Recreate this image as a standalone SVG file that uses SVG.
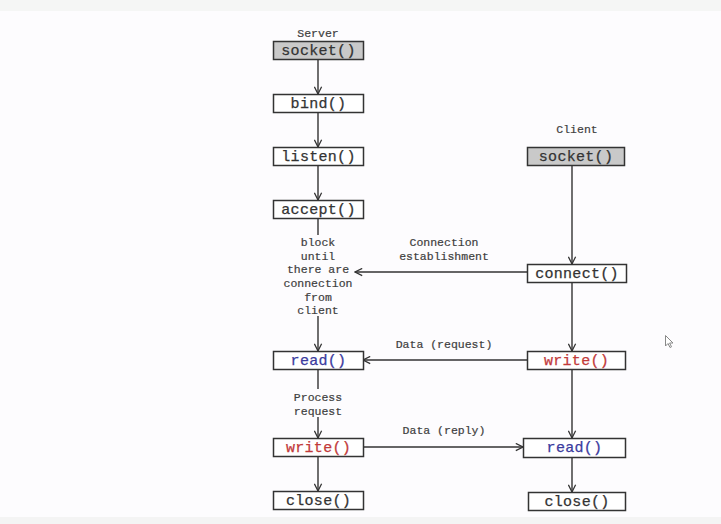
<svg xmlns="http://www.w3.org/2000/svg" width="721" height="524" viewBox="0 0 721 524">
  <style>
    .box { fill: #ffffff; stroke: #333333; stroke-width: 1.5; }
    .box.sock { fill: #c9c9c9; }
    .fn { font-family: "Liberation Mono", "DejaVu Sans Mono", monospace; font-size: 15px; fill: #333333; stroke: #333333; stroke-width: 0.25; text-anchor: middle; letter-spacing: 0.3px; }
    .fn.rd { fill: #3b3b9e; stroke: #3b3b9e; }
    .fn.wr { fill: #c23a3a; stroke: #c23a3a; }
    .lbl { font-family: "Liberation Mono", "DejaVu Sans Mono", monospace; font-size: 11.5px; fill: #404040; stroke: #404040; stroke-width: 0.2; text-anchor: middle; }
    .wire { fill: none; stroke: #333333; stroke-width: 1.4; }
  </style>
  <defs>
    <marker id="arrow" viewBox="0 0 10 10" refX="9" refY="5" markerWidth="9" markerHeight="9" markerUnits="userSpaceOnUse" orient="auto">
      <path d="M1,1 L9,5 L1,9" fill="none" stroke="#333333" stroke-width="1.4"/>
    </marker>
  </defs>

  <!-- page background -->
  <rect x="0" y="0" width="721" height="524" fill="#fdfcfe"/>
  <rect x="0" y="0" width="721" height="11" fill="#f5f6f5"/>
  <rect x="0" y="517" width="721" height="7" fill="#f4f4f4"/>

  <!-- column headings -->
  <text class="lbl" x="318" y="37">Server</text>
  <text class="lbl" x="577" y="133">Client</text>

  <!-- connectors -->
  <g id="connectors">
    <!-- server side -->
    <line class="wire" x1="318" y1="59" x2="318" y2="94" marker-end="url(#arrow)"/>
    <line class="wire" x1="318" y1="112" x2="318" y2="147" marker-end="url(#arrow)"/>
    <line class="wire" x1="318" y1="165" x2="318" y2="200" marker-end="url(#arrow)"/>
    <line class="wire" x1="318" y1="218" x2="318" y2="235"/>
    <line class="wire" x1="318" y1="316" x2="318" y2="351" marker-end="url(#arrow)"/>
    <line class="wire" x1="318" y1="369" x2="318" y2="389"/>
    <line class="wire" x1="318" y1="417" x2="318" y2="438" marker-end="url(#arrow)"/>
    <line class="wire" x1="318" y1="456" x2="318" y2="491" marker-end="url(#arrow)"/>
    <!-- client side -->
    <line class="wire" x1="572" y1="165" x2="572" y2="264" marker-end="url(#arrow)"/>
    <line class="wire" x1="572" y1="282" x2="572" y2="351" marker-end="url(#arrow)"/>
    <line class="wire" x1="572" y1="369" x2="572" y2="438" marker-end="url(#arrow)"/>
    <line class="wire" x1="572" y1="457" x2="572" y2="492" marker-end="url(#arrow)"/>
    <!-- exchanges -->
    <line class="wire" x1="527" y1="272" x2="355" y2="272" marker-end="url(#arrow)"/>
    <line class="wire" x1="527" y1="360" x2="363" y2="360" marker-end="url(#arrow)"/>
    <line class="wire" x1="364" y1="447" x2="523" y2="447" marker-end="url(#arrow)"/>
  </g>

  <!-- connector labels -->
  <g>
    <text class="lbl" x="318" y="246">block</text>
    <text class="lbl" x="318" y="260">until</text>
    <text class="lbl" x="318" y="273">there are</text>
    <text class="lbl" x="318" y="287">connection</text>
    <text class="lbl" x="318" y="301">from</text>
    <text class="lbl" x="318" y="314">client</text>
    <text class="lbl" x="444" y="246">Connection</text>
    <text class="lbl" x="444" y="260">establishment</text>
    <text class="lbl" x="444" y="348">Data (request)</text>
    <text class="lbl" x="318" y="401">Process</text>
    <text class="lbl" x="318" y="415">request</text>
    <text class="lbl" x="444" y="434">Data (reply)</text>
  </g>

  <!-- server nodes -->
  <g id="srv-socket"><rect class="box sock" x="273.5" y="41.5" width="90" height="18"/><text class="fn" x="318.5" y="55">socket()</text></g>
  <g id="srv-bind"><rect class="box" x="273.5" y="94.5" width="90" height="18"/><text class="fn" x="318.5" y="108">bind()</text></g>
  <g id="srv-listen"><rect class="box" x="273.5" y="147.5" width="90" height="18"/><text class="fn" x="318.5" y="161">listen()</text></g>
  <g id="srv-accept"><rect class="box" x="273.5" y="200.5" width="90" height="18"/><text class="fn" x="318.5" y="214">accept()</text></g>
  <g id="srv-read"><rect class="box" x="273.5" y="351.5" width="90" height="18"/><text class="fn rd" x="318.5" y="365">read()</text></g>
  <g id="srv-write"><rect class="box" x="273.5" y="438.5" width="90" height="18"/><text class="fn wr" x="318.5" y="452">write()</text></g>
  <g id="srv-close"><rect class="box" x="273.5" y="491.5" width="90" height="18"/><text class="fn" x="318.5" y="505">close()</text></g>

  <!-- client nodes -->
  <g id="cli-socket"><rect class="box sock" x="527.5" y="147.5" width="97" height="18"/><text class="fn" x="576" y="161">socket()</text></g>
  <g id="cli-connect"><rect class="box" x="527.5" y="264.5" width="99" height="18"/><text class="fn" x="577" y="278">connect()</text></g>
  <g id="cli-write"><rect class="box" x="527.5" y="351.5" width="98" height="18"/><text class="fn wr" x="576.5" y="365">write()</text></g>
  <g id="cli-read"><rect class="box" x="523.5" y="438.5" width="102" height="19"/><text class="fn rd" x="574.5" y="452">read()</text></g>
  <g id="cli-close"><rect class="box" x="528.5" y="492.5" width="97" height="18"/><text class="fn" x="577" y="506">close()</text></g>

  <!-- mouse pointer -->
  <path d="M665.5,335.5 L665.5,346 L668,343.5 L670,347.5 L671.5,346.8 L669.6,343 L673,343 Z" fill="#ffffff" stroke="#888888" stroke-width="1"/>
</svg>
